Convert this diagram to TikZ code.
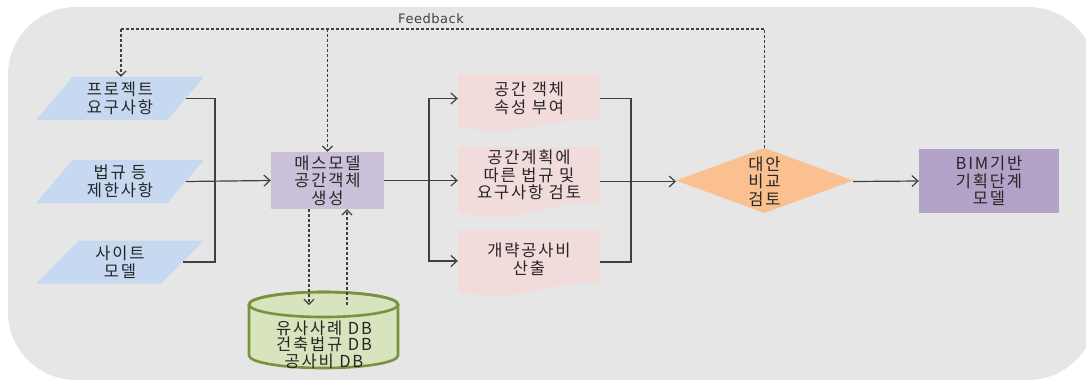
\documentclass[tikz,border=0pt]{standalone}
\usepackage{fontspec}
\setmainfont{Noto Sans CJK KR}[LetterSpace=11]
\newfontfamily\fbfont{DejaVu Sans}[LetterSpace=4]
\usetikzlibrary{arrows.meta,shapes.geometric,calc}
\definecolor{bgc}{HTML}{E6E6E6}
\definecolor{bluec}{HTML}{C6D9F1}
\definecolor{massc}{HTML}{CCC1DA}
\definecolor{pinkc}{HTML}{F2DCDB}
\definecolor{orangec}{HTML}{FAC090}
\definecolor{bimc}{HTML}{B3A2C7}
\definecolor{dbfill}{HTML}{D7E4BD}
\definecolor{dbline}{HTML}{77933C}
\definecolor{linec}{HTML}{404040}
\definecolor{txtc}{HTML}{262626}
\tikzset{
  lbl/.style={align=center, text=txtc, font=\fontsize{16.5}{17.5}\selectfont, inner sep=0pt},
  inbox/.style={trapezium, trapezium left angle=52, trapezium right angle=128,
    trapezium stretches=true, fill=bluec, minimum width=168pt, minimum height=43pt,
    inner sep=0pt, align=center, text=txtc, font=\fontsize{16.5}{17.5}\selectfont},
  arr/.style={draw=linec, line width=1.2pt, -{Straight Barb[length=6pt,width=11pt]}},
  conn/.style={draw=linec, line width=1.2pt},
  darr/.style={draw=linec, line width=1.2pt, dash pattern=on 3pt off 2pt,
    -{Straight Barb[length=5pt,width=10pt]}},
  dline/.style={draw=linec, line width=1.2pt, dash pattern=on 3pt off 2pt},
}
\begin{document}
\begin{tikzpicture}[x=1pt,y=-1pt]
\useasboundingbox (0,0) rectangle (1086,381);
\clip (0,0) rectangle (1086,381);
% background
\fill[bgc, rounded corners=68pt] (8,7) rectangle (1096,380);

% input parallelograms
\node[inbox] (a1) at (120,98.5) {프로젝트\\요구사항};
\node[inbox] (a2) at (120,181.5) {법규 등\\제한사항};
\node[inbox] (a3) at (120,262) {사이트\\모델};

% mass model box
\node[lbl, fill=massc, minimum width=113pt, minimum height=57pt] (m) at (327.5,180.5) {매스모델\\공간객체\\생성};

% pink document shapes
\newcommand{\docshape}[4]{%
  \fill[pinkc] (#1,#2) -- ({#1+#3},#2) -- ({#1+#3},{#2+0.802*#4})
    .. controls ({#1+0.5*#3},{#2+0.802*#4}) and ({#1+0.5*#3},{#2+1.127*#4}) ..
    (#1,{#2+0.934*#4}) -- cycle;}
\docshape{458}{74}{142}{57}
\docshape{458}{147}{142}{70}
\docshape{458}{230}{142}{66}
\node[lbl, minimum width=142pt] (p1) at (529,98.5) {공간 객체\\속성 부여};
\node[lbl, minimum width=142pt] (p2) at (529,175) {공간계획에\\따른 법규 및\\요구사항 검토};
\node[lbl, minimum width=142pt] (p3) at (529,259) {개략공사비\\산출};

% diamond
\fill[orangec] (676,180.5) -- (764.5,148) -- (853,180.5) -- (764.5,213) -- cycle;
\coordinate (dl) at (676,181.5);
\coordinate (dr) at (853,181.5);
\coordinate (dt) at (764.5,148);
\node[lbl] (d) at (764.5,181.5) {대안\\비교\\검토};

% BIM box
\node[lbl, fill=bimc, minimum width=140pt, minimum height=64pt] (b) at (989,181) {BIM기반\\기획단계\\모델};

% database cylinder
\filldraw[fill=dbfill, draw=dbline, line width=2.6pt]
  (249,304.5) -- (249,355.5) arc[start angle=180, end angle=0, x radius=74.5, y radius=12.5]
  -- (398,304.5) arc[start angle=0, end angle=-180, x radius=74.5, y radius=12.5] -- cycle;
\draw[dbline, line width=2.6pt] (323.5,304.5) ellipse[x radius=74.5, y radius=12.5];
\node[lbl, font=\fontsize{16.5}{16.5}\selectfont] (db) at (324,344.5) {유사사례 DB\\건축법규 DB\\공사비 DB};

% junctions
\coordinate (j1) at (215,181.5);
\coordinate (j2) at (631,181.5);
\coordinate (k1) at (429,181.5);
\coordinate (fbl) at (121,29);
\coordinate (fbr) at (764.5,29);
\coordinate (dbin) at (309,305);
\coordinate (dbout) at (347,305);

% connectors
\draw[conn] (a1.east) -| (j1) |- (a3.east);
\draw[arr] (a2.east) -- (m.west);
\draw[arr] (m.east) -- (m.east -| p2.west);
\draw[arr] (k1) |- (p1.west);
\draw[arr] (k1) |- (p3.west |- 0,261);
\draw[conn] (p1.east) -| (j2) |- (p3.east |- 0,262);
\draw[arr] (p2.east |- j2) -- (dl);
\draw[arr] (dr) -- (b.west);

% feedback
\draw[dline] (dt) -- (fbr) -- (fbl);
\draw[darr] (fbl) -- (fbl |- a1.north);
\draw[darr] (m.north |- fbl) -- (m.north);
\node[font=\fbfont\fontsize{13}{14}\selectfont, text=linec, inner sep=0pt] (fbt) at (431,19) {Feedback};

% database dashed arrows
\draw[darr] (dbin |- m.south) -- (dbin);
\draw[darr] (dbout) -- (dbout |- m.south);
\end{tikzpicture}
\end{document}
